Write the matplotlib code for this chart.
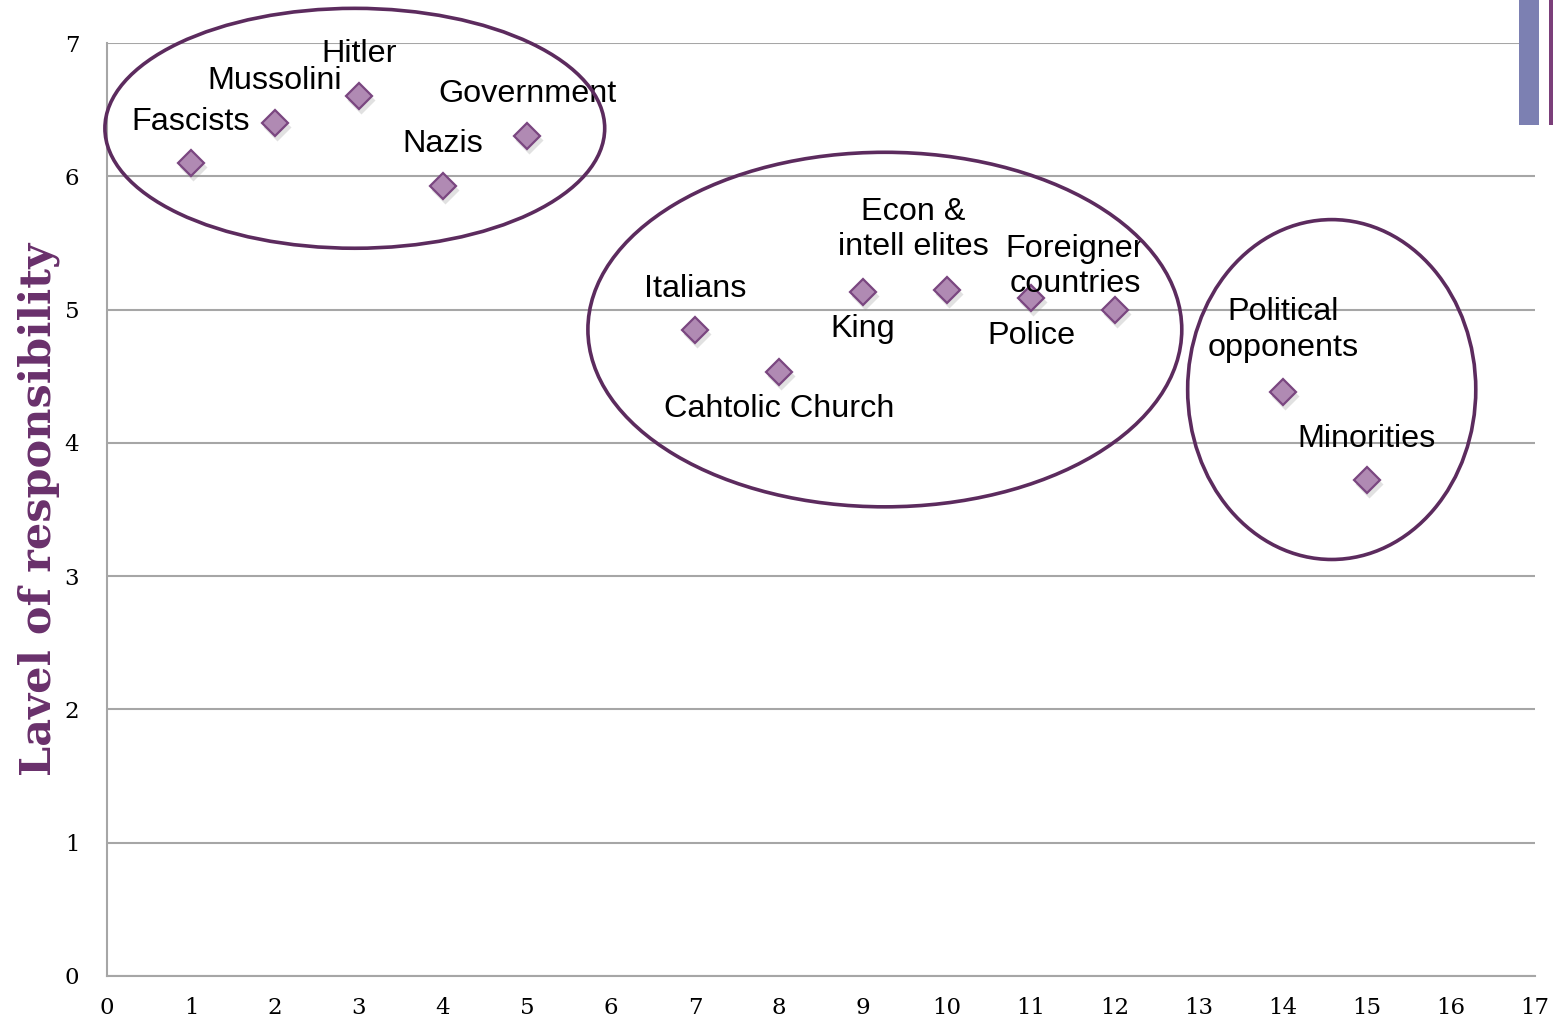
import matplotlib
matplotlib.use('Agg')
import matplotlib.pyplot as plt
from matplotlib.patches import Ellipse, Rectangle

# Perceived responsibility per actor
actors = ['Fascists', 'Mussolini', 'Hitler', 'Nazis', 'Government',
          'Italians', 'Cahtolic Church', 'King', 'Econ &\nintell elites',
          'Police', 'Foreigner\ncountries', 'Political\nopponents', 'Minorities']
positions = [1, 2, 3, 4, 5, 7, 8, 9, 10, 11, 12, 14, 15]
responsibility = [6.1, 6.4, 6.6, 5.93, 6.3, 4.85, 4.53, 5.13, 5.15, 5.09, 5.0, 4.38, 3.72]

xTicks = list(range(0, 18))
yTicks = list(range(0, 8))

# label offsets in pixels (dx, dy) from each point
labelOffsets = [(0, 41), (0, 42), (0, 42), (0, 42), (0, 42),
                (0, 41), (0, -37), (0, -37), (-34, 60),
                (0, -38), (-40, 43), (0, 62), (0, 41)]

# groups circled on the chart: (x center, y center, width, height) in data units
groups = [(2.95, 6.36, 5.95, 1.80),
          (9.26, 4.85, 7.07, 2.66),
          (14.58, 4.40, 3.43, 2.55)]

purple = '#5c2b5e'
gridGray = '#a6a6a6'

fig = plt.figure(figsize=(15.54, 10.23), dpi=100)
ax = fig.add_axes([107 / 1554, 47 / 1023, 1428 / 1554, 933 / 1023])

ax.set_xlim(0, 17)
ax.set_ylim(0, 7)
ax.set_xticks(xTicks)
ax.set_yticks(yTicks)
ax.yaxis.grid(True, color=gridGray, linewidth=1.5)
ax.set_axisbelow(True)
for side in ['top', 'right']:
    ax.spines[side].set_visible(False)
for side in ['left', 'bottom']:
    ax.spines[side].set_color(gridGray)
    ax.spines[side].set_linewidth(1.5)
ax.tick_params(length=0, labelsize=16.5, labelfontfamily='DejaVu Serif')
ax.tick_params(axis='y', pad=20)
ax.tick_params(axis='x', pad=15)

ax.set_ylabel('Lavel of responsibility', fontsize=31, fontweight='heavy',
              family='DejaVu Serif', color='#69306b', labelpad=3)

# soft shadow under each marker, then the marker itself
ax.plot([p + 0.02 for p in positions], [r - 0.03 for r in responsibility], 'D',
        ms=14, color='#888888', alpha=0.25, mec='none', zorder=3)
ax.plot(positions, responsibility, 'D', ms=13, mfc='#b08ab3', mec='#7a4680',
        mew=1.6, zorder=4, linestyle='none')

for name, x, y, (dx, dy) in zip(actors, positions, responsibility, labelOffsets):
    ax.annotate(name, (x, y), xytext=(dx, dy), textcoords='offset pixels',
                ha='center', va='center', fontsize=23.3, family='Liberation Sans',
                linespacing=1.25, zorder=5)

for cx, cy, w, h in groups:
    ax.add_patch(Ellipse((cx, cy), w, h, fill=False, edgecolor=purple,
                         linewidth=2.6, clip_on=False, zorder=6))

# corner decoration
fig.add_artist(Rectangle((1519 / 1554, 1 - 125 / 1023), 20 / 1554, 125 / 1023,
                         transform=fig.transFigure, color='#7c80b2', lw=0))
fig.add_artist(Rectangle((1549 / 1554, 1 - 125 / 1023), 4 / 1554, 125 / 1023,
                         transform=fig.transFigure, color='#7b3f7a', lw=0))

fig.savefig('out.png', dpi=100)
